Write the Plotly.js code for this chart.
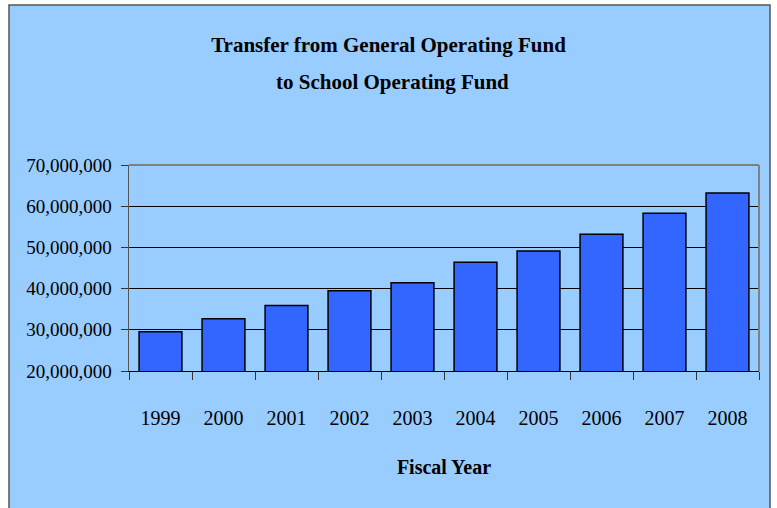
<!DOCTYPE html>
<html>
<head>
<meta charset="utf-8">
<script src="https://cdn.plot.ly/plotly-3.0.1.min.js"></script>
<style>html,body{margin:0;padding:0;background:#fff;}#chart{width:777px;height:508px;}</style>
</head>
<body>
<div id="chart"></div>
<script>
const years = ["1999","2000","2001","2002","2003","2004","2005","2006","2007","2008"];
const transfers = [29500000, 32700000, 35900000, 39500000, 41400000, 46400000, 49100000, 53200000, 58300000, 63200000];
const yTicks = [20000000, 30000000, 40000000, 50000000, 60000000, 70000000];
const yTickLabels = ["20,000,000","30,000,000","40,000,000","50,000,000","60,000,000","70,000,000"];
const titleLines = ["Transfer from General Operating Fund", "to School Operating Fund"];

const serif = "'Liberation Serif', 'Times New Roman', serif";

const trace = {
  type: "bar",
  x: years,
  y: transfers,
  marker: {color: "#3366FF", line: {color: "#000000", width: 1.5}},
  hoverinfo: "x+y"
};

const layout = {
  width: 777, height: 508,
  margin: {l: 129, r: 18, t: 165, b: 137, pad: 0},
  paper_bgcolor: "#FFFFFF",
  plot_bgcolor: "#00CCFF",
  showlegend: false,
  bargap: 0.32,
  title: {
    text: "<b>" + titleLines[0] + "</b>",
    font: {family: serif, size: 21, color: "#000"},
    x: 0.5, xanchor: "center", xref: "container",
    y: 1 - 45/508, yanchor: "middle", yref: "container"
  },
  annotations: [
    {text: "<b>" + titleLines[1] + "</b>", showarrow: false,
     xref: "paper", yref: "paper", x: (392-129)/630, y: (371-82)/206,
     xanchor: "center", yanchor: "middle",
     font: {family: serif, size: 21, color: "#000"}}
  ],
  xaxis: {
    type: "category",
    showgrid: false,
    showline: true, linecolor: "#000", linewidth: 1,
    ticks: "outside", ticklen: 8, tickcolor: "#333", tickson: "boundaries",
    ticklabelstandoff: 29,
    tickfont: {family: serif, size: 20, color: "#000"},
    title: {text: "<b>Fiscal Year</b>", font: {family: serif, size: 20, color: "#000"}, standoff: 31}
  },
  yaxis: {
    range: [20000000, 70000000],
    tickvals: yTicks, ticktext: yTickLabels,
    showgrid: true, gridcolor: "#000", gridwidth: 1,
    zeroline: false,
    showline: true, linecolor: "#555", linewidth: 1.5,
    ticks: "outside", ticklen: 7, tickcolor: "#333",
    ticklabelstandoff: 5,
    tickfont: {family: serif, size: 19, color: "#000"}
  },
  shapes: [
    {type: "rect", xref: "paper", yref: "paper", layer: "below",
     x0: (9-129)/630, x1: (770-129)/630, y0: (371-520)/206, y1: (371-5)/206,
     fillcolor: "#99CCFF", line: {color: "#555", width: 1.5}},
    {type: "line", xref: "paper", yref: "paper", layer: "above",
     x0: 0, x1: 1, y0: 1, y1: 1, line: {color: "#808080", width: 2}},
    {type: "line", xref: "paper", yref: "paper", layer: "above",
     x0: 1, x1: 1, y0: 0, y1: 1, line: {color: "#808080", width: 2}}
  ]
};

Plotly.newPlot("chart", [trace], layout, {displayModeBar: false, staticPlot: true});
</script>
</body>
</html>
